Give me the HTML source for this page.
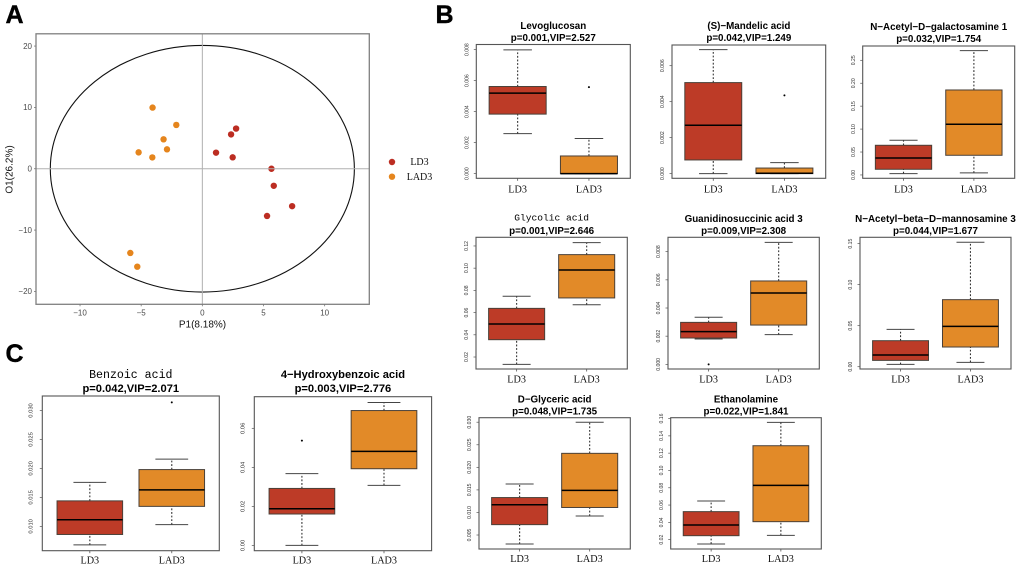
<!DOCTYPE html>
<html>
<head>
<meta charset="utf-8">
<title>Metabolite PCA and boxplots</title>
<style>
html,body{margin:0;padding:0;background:#fff;width:1020px;height:568px;overflow:hidden}
svg{display:block;position:absolute;left:0;top:0;filter:blur(0.35px)}
</style>
</head>
<body>
<svg id="figure" width="1020" height="568" viewBox="0 0 1020 568" xmlns="http://www.w3.org/2000/svg"></svg>
<script>
// ---- Score plot data ----
const groupNames = ['LD3', 'LAD3'];
const ld3P1 = [1.12, 2.35, 2.76, 2.48, 5.65, 5.84, 7.34, 5.29];
const ld3O1 = [2.62, 5.6, 6.55, 1.86, 0, -2.78, -6.1, -7.7];
const lad3P1 = [-4.07, -2.13, -3.17, -2.89, -5.21, -4.09, -5.89, -5.32];
const lad3O1 = [9.97, 7.14, 4.8, 3.16, 2.67, 1.85, -13.73, -15.97];
const scoreXTicks = [-10, -5, 0, 5, 10];
const scoreYTicks = [-20, -10, 0, 10, 20];
const scoreXRange = [-13.6, 13.65];
const scoreYRange = [-22.1, 22.0];
const ellipseRadii = [12.43, 20.1];

// ---- Boxplot data: [low whisker, Q1, median, Q3, high whisker] ----
const levoLD3 = [0.00258, 0.00384, 0.00519, 0.00562, 0.00798];
const levoLAD3 = [0, 0, 0, 0.00114, 0.00227];
const levoOutliers = [[], [0.00558]];
const levoTicks = ['0.000', '0.002', '0.004', '0.006', '0.008'];
const levoRange = [-0.0003, 0.00833];

const mandLD3 = [0, 0.00076, 0.00269, 0.00506, 0.00689];
const mandLAD3 = [0, 0, 0.00002, 0.00031, 0.00061];
const mandOutliers = [[], [0.00435]];
const mandTicks = ['0.000', '0.002', '0.004', '0.006'];
const mandRange = [-0.00026, 0.00715];

const galLD3 = [0.003, 0.0124, 0.037, 0.0647, 0.0756];
const galLAD3 = [0.0044, 0.0429, 0.1105, 0.1853, 0.271];
const galOutliers = [[], []];
const galTicks = ['0.00', '0.05', '0.10', '0.15', '0.20', '0.25'];
const galRange = [-0.0073, 0.2812];

const glyLD3 = [0.0134, 0.0356, 0.0497, 0.0638, 0.0747];
const glyLAD3 = [0.0671, 0.0732, 0.0984, 0.1122, 0.123];
const glyOutliers = [[], []];
const glyTicks = ['0.02', '0.04', '0.06', '0.08', '0.10', '0.12'];
const glyRange = [0.0092, 0.1278];

const guaLD3 = [0.0018, 0.00187, 0.00232, 0.00298, 0.00334];
const guaLAD3 = [0.00211, 0.00279, 0.00507, 0.00592, 0.00866];
const guaOutliers = [[0], []];
const guaTicks = ['0.000', '0.002', '0.004', '0.006', '0.008'];
const guaRange = [-0.00033, 0.00902];

const manLD3 = [0.0028, 0.0077, 0.0142, 0.0317, 0.0455];
const manLAD3 = [0.0053, 0.024, 0.0492, 0.0817, 0.1516];
const manOutliers = [[], []];
const manTicks = ['0.00', '0.05', '0.10', '0.15'];
const manRange = [-0.0028, 0.1577];

const dglLD3 = [0.003, 0.0073, 0.0117, 0.0133, 0.0163];
const dglLAD3 = [0.0092, 0.0111, 0.0149, 0.0231, 0.03];
const dglOutliers = [[], []];
const dglTicks = ['0.005', '0.010', '0.015', '0.020', '0.025', '0.030'];
const dglRange = [0.0019, 0.031];

const ethLD3 = [0.015, 0.0246, 0.037, 0.0524, 0.0647];
const ethLAD3 = [0.025, 0.0408, 0.0828, 0.1286, 0.1556];
const ethOutliers = [[], []];
const ethTicks = ['0.02', '0.04', '0.06', '0.08', '0.10', '0.12', '0.14', '0.16'];
const ethRange = [0.0092, 0.161];

const benLD3 = [0.0068, 0.0086, 0.01115, 0.0144, 0.0176];
const benLAD3 = [0.0103, 0.01345, 0.0163, 0.0198, 0.0216];
const benOutliers = [[], [0.0314]];
const benTicks = ['0.010', '0.015', '0.020', '0.025', '0.030'];
const benRange = [0.0058, 0.0325];

const hydLD3 = [0, 0.0161, 0.0188, 0.0292, 0.0368];
const hydLAD3 = [0.0308, 0.0393, 0.0482, 0.0691, 0.0732];
const hydOutliers = [[0.0537], []];
const hydTicks = ['0.00', '0.02', '0.04', '0.06'];
const hydRange = [-0.0027, 0.0762];

const RED = '#bd3b27';
const ORANGE = '#e28a28';
const svg = document.getElementById('figure');
const NS = 'http://www.w3.org/2000/svg';

function shape(parent, tag, attrs) {
  const el = document.createElementNS(NS, tag);
  for (const k in attrs) el.setAttribute(k, attrs[k]);
  parent.appendChild(el);
  return el;
}
function label(parent, str, attrs) {
  const el = shape(parent, 'text', attrs);
  el.textContent = str;
  return el;
}
function scale(domain, a, b) {
  return function (v) { return a + (v - domain[0]) / (domain[1] - domain[0]) * (b - a); };
}
const SANS = '"Liberation Sans", sans-serif';
const SERIF = '"Liberation Serif", serif';
const MONO = '"Liberation Mono", monospace';

// ---- Panel letters ----
function panelLetter(str, x, y) {
  const t = label(svg, str, { x: x, y: y, 'font-family': SANS, 'font-weight': 'bold', 'font-size': 25, fill: '#000', stroke: '#000', 'stroke-width': 0.4 });
  
  
}
panelLetter('A', 5.5, 23);
panelLetter('B', 435.5, 23);
panelLetter('C', 5.5, 362);

// ---- Panel A: score plot ----
function drawScorePlot() {
  const L = 36, R = 369.3, T = 33.8, B = 304.3;
  const x = scale(scoreXRange, L, R);
  const y = scale(scoreYRange, B, T);
  const g = shape(svg, 'g', {});
  
  

  const ell = shape(g, 'ellipse', { cx: x(0), cy: y(0), rx: x(ellipseRadii[0]) - x(0), ry: y(0) - y(ellipseRadii[1]), fill: 'none', stroke: '#111', 'stroke-width': 1.1 });
  
  

  const series = [[ld3P1, ld3O1, '#bc2d22'], [lad3P1, lad3O1, '#e5851d']];
  series.forEach(function (s, si) {
    s[0].forEach(function (p1, i) {
      const c = shape(g, 'circle', { cx: x(p1), cy: y(s[1][i]), r: 3.2, fill: s[2] });
      
      
    });
  });

  const hz = shape(g, 'line', { x1: L, x2: R, y1: y(0), y2: y(0), stroke: '#b0b0b0', 'stroke-width': 1 });
  
  
  const vt = shape(g, 'line', { x1: x(0), x2: x(0), y1: T, y2: B, stroke: '#b0b0b0', 'stroke-width': 1 });
  
  

  const frame = shape(g, 'rect', { x: L, y: T, width: R - L, height: B - T, fill: 'none', stroke: '#808080', 'stroke-width': 1.3 });
  
  

  scoreXTicks.forEach(function (v) {
    const tk = shape(g, 'line', { x1: x(v), x2: x(v), y1: B, y2: B + 2, stroke: '#777', 'stroke-width': 0.8 });
    
    
    const t = label(g, String(v).replace('-', '\u2212'), { x: x(v), y: 315.3, 'text-anchor': 'middle', 'font-family': SANS, 'font-size': 8, fill: '#4a4a4a' });
    
    
  });
  scoreYTicks.forEach(function (v) {
    const tk = shape(g, 'line', { x1: L - 2, x2: L, y1: y(v), y2: y(v), stroke: '#777', 'stroke-width': 0.8 });
    
    
    const t = label(g, String(v).replace('-', '\u2212'), { x: 32, y: y(v) + 2.8, 'text-anchor': 'end', 'font-family': SANS, 'font-size': 8, fill: '#4a4a4a' });
    
    
  });

  const xt = label(g, 'P1(8.18%)', { x: 202.5, y: 327.5, 'text-anchor': 'middle', 'font-family': SANS, 'font-size': 10, fill: '#111' });
  
  
  const yt = label(g, 'O1(26.2%)', { x: 0, y: 0, transform: 'translate(12.5,169.5) rotate(-90)', 'text-anchor': 'middle', 'font-family': SANS, 'font-size': 10, fill: '#111' });
  
  

  groupNames.forEach(function (nm, i) {
    const ly = 162 + i * 14.7;
    const m = shape(g, 'circle', { cx: 392, cy: ly, r: 3.2, fill: series[i][2] });
    
    
    const t = label(g, nm, { x: 419.5, y: ly + 3.2, 'text-anchor': 'middle', 'font-family': SERIF, 'font-size': 10, fill: '#111' });
    
    
  });
}
drawScorePlot();

// ---- Boxplots ----
function drawBoxplot(cfg) {
  const x = scale([0.42, 2.58], cfg.L, cfg.R);
  const y = scale(cfg.range, cfg.B, cfg.T);
  const g = shape(svg, 'g', {});
  
  

  const cx = (cfg.L + cfg.R) / 2;
  const t1 = label(g, cfg.title, {
    x: cx, y: cfg.titleY,
    'text-anchor': 'middle',
    'font-family': cfg.mono ? MONO : SANS,
    'font-weight': cfg.mono ? 'normal' : 'bold',
    'font-size': cfg.mono ? cfg.titleSize * (cfg.big ? 1.04 : 0.98) : cfg.titleSize,
    fill: '#000'
  });
  
  
  const t2 = label(g, cfg.sub, { x: cx, y: cfg.subY, 'text-anchor': 'middle', 'font-family': SANS, 'font-weight': 'bold', 'font-size': cfg.titleSize, fill: '#000' });
  
  

  cfg.stats.forEach(function (st, i) {
    const pos = i + 1;
    const color = i === 0 ? RED : ORANGE;
    const w1 = shape(g, 'line', { x1: x(pos), x2: x(pos), y1: y(st[0]), y2: y(st[1]), stroke: '#333', 'stroke-width': 1.1, 'stroke-dasharray': '1.8 1.8' });
    
    
    const w2 = shape(g, 'line', { x1: x(pos), x2: x(pos), y1: y(st[3]), y2: y(st[4]), stroke: '#333', 'stroke-width': 1.1, 'stroke-dasharray': '1.8 1.8' });
    
    
    const c1 = shape(g, 'line', { x1: x(pos - 0.2), x2: x(pos + 0.2), y1: y(st[0]), y2: y(st[0]), stroke: '#444', 'stroke-width': 1 });
    
    
    const c2 = shape(g, 'line', { x1: x(pos - 0.2), x2: x(pos + 0.2), y1: y(st[4]), y2: y(st[4]), stroke: '#444', 'stroke-width': 1 });
    
    
    const box = shape(g, 'rect', { x: x(pos - 0.4), y: y(st[3]), width: x(pos + 0.4) - x(pos - 0.4), height: y(st[1]) - y(st[3]), fill: color, stroke: '#4a4038', 'stroke-width': 1 });
    
    
    const med = shape(g, 'line', { x1: x(pos - 0.4), x2: x(pos + 0.4), y1: y(st[2]), y2: y(st[2]), stroke: '#000', 'stroke-width': 1.5 });
    
    
    cfg.outliers[i].forEach(function (v) {
      const o = shape(g, 'circle', { cx: x(pos), cy: y(v), r: 1, fill: '#000' });
      
      
    });
    const tk = shape(g, 'line', { x1: x(pos), x2: x(pos), y1: cfg.B, y2: cfg.B + 2.5, stroke: '#555', 'stroke-width': 0.8 });
    
    
    const xl = label(g, groupNames[i], { x: x(pos), y: cfg.B + cfg.catDy, 'text-anchor': 'middle', 'font-family': SERIF, 'font-size': 10.2, fill: '#111' });
    
    
  });

  cfg.ticks.forEach(function (str) {
    const v = parseFloat(str);
    const tk = shape(g, 'line', { x1: cfg.L - 2.5, x2: cfg.L, y1: y(v), y2: y(v), stroke: '#555', 'stroke-width': 0.7 });
    
    
    const lx = cfg.L - (cfg.big ? 9.6 : 7.8);
    const tl = label(g, str, { x: 0, y: 0, transform: 'translate(' + lx + ',' + y(v) + ') rotate(-90)', 'text-anchor': 'middle', 'font-family': SANS, 'font-size': cfg.big ? 5.8 : 5.1, fill: '#333' });
    
    
  });

  const frame = shape(g, 'rect', { x: cfg.L, y: cfg.T, width: cfg.R - cfg.L, height: cfg.B - cfg.T, fill: 'none', stroke: '#555', 'stroke-width': 1.1 });
  
  
}

drawBoxplot({ id: 'levoglucosan', title: 'Levoglucosan', sub: 'p=0.001,VIP=2.527', L: 476.3, R: 630.3, T: 44.5, B: 178.3, titleY: 29.2, subY: 41, titleSize: 9.8, catDy: 14, stats: [levoLD3, levoLAD3], outliers: levoOutliers, ticks: levoTicks, range: levoRange });
drawBoxplot({ id: 'mandelic-acid', title: '(S)\u2212Mandelic acid', sub: 'p=0.042,VIP=1.249', L: 672, R: 825.7, T: 45, B: 178.3, titleY: 29.2, subY: 41, titleSize: 9.8, catDy: 14, stats: [mandLD3, mandLAD3], outliers: mandOutliers, ticks: mandTicks, range: mandRange });
drawBoxplot({ id: 'galactosamine', title: 'N\u2212Acetyl\u2212D\u2212galactosamine 1', sub: 'p=0.032,VIP=1.754', L: 862.7, R: 1014.7, T: 46, B: 178.3, titleY: 30.2, subY: 42.2, titleSize: 9.8, catDy: 14, stats: [galLD3, galLAD3], outliers: galOutliers, ticks: galTicks, range: galRange });
drawBoxplot({ id: 'glycolic-acid', title: 'Glycolic acid', sub: 'p=0.001,VIP=2.646', mono: true, L: 476, R: 627.3, T: 237.3, B: 369, titleY: 220.5, subY: 234, titleSize: 9.8, catDy: 13.5, stats: [glyLD3, glyLAD3], outliers: glyOutliers, ticks: glyTicks, range: glyRange });
drawBoxplot({ id: 'guanidinosuccinic-acid', title: 'Guanidinosuccinic acid 3', sub: 'p=0.009,VIP=2.308', L: 668, R: 819.3, T: 237.3, B: 369, titleY: 222, subY: 234, titleSize: 9.8, catDy: 13.5, stats: [guaLD3, guaLAD3], outliers: guaOutliers, ticks: guaTicks, range: guaRange });
drawBoxplot({ id: 'mannosamine', title: 'N\u2212Acetyl\u2212beta\u2212D\u2212mannosamine 3', sub: 'p=0.044,VIP=1.677', L: 860, R: 1011, T: 237.3, B: 369, titleY: 222, subY: 234, titleSize: 9.8, catDy: 13.5, stats: [manLD3, manLAD3], outliers: manOutliers, ticks: manTicks, range: manRange });
drawBoxplot({ id: 'glyceric-acid', title: 'D\u2212Glyceric acid', sub: 'p=0.048,VIP=1.735', L: 479, R: 630.3, T: 417.7, B: 549, titleY: 402.3, subY: 414.3, titleSize: 9.8, catDy: 13.2, stats: [dglLD3, dglLAD3], outliers: dglOutliers, ticks: dglTicks, range: dglRange });
drawBoxplot({ id: 'ethanolamine', title: 'Ethanolamine', sub: 'p=0.022,VIP=1.841', L: 670.7, R: 821.3, T: 417.7, B: 549, titleY: 402.3, subY: 414.3, titleSize: 9.8, catDy: 13.2, stats: [ethLD3, ethLAD3], outliers: ethOutliers, ticks: ethTicks, range: ethRange });
drawBoxplot({ id: 'benzoic-acid', title: 'Benzoic acid', sub: 'p=0.042,VIP=2.071', mono: true, big: true, L: 42.3, R: 219.3, T: 396, B: 550.7, titleY: 378, subY: 392, titleSize: 11.15, catDy: 12.7, stats: [benLD3, benLAD3], outliers: benOutliers, ticks: benTicks, range: benRange });
drawBoxplot({ id: 'hydroxybenzoic-acid', title: '4\u2212Hydroxybenzoic acid', sub: 'p=0.003,VIP=2.776', big: true, L: 254.3, R: 431.6, T: 396.7, B: 550.7, titleY: 378, subY: 392, titleSize: 11.15, catDy: 12.7, stats: [hydLD3, hydLAD3], outliers: hydOutliers, ticks: hydTicks, range: hydRange });
</script>
</body>
</html>
